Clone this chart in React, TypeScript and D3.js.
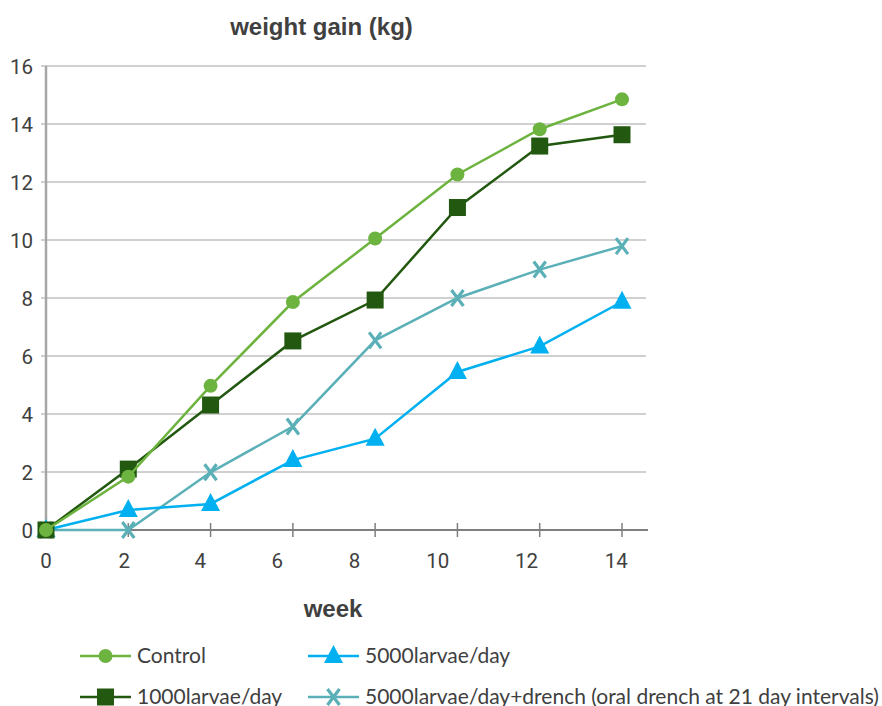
import React from "react";
import * as d3 from "d3";

const weeks = [0, 2, 4, 6, 8, 10, 12, 14];
const control = [0, 1.84, 4.97, 7.86, 10.05, 12.26, 13.82, 14.85];
const larvae1000 = [0, 2.1, 4.31, 6.52, 7.93, 11.12, 13.24, 13.63];
const larvae5000 = [0, 0.69, 0.9, 2.41, 3.15, 5.45, 6.33, 7.87];
const drench = [0, 0, 1.99, 3.57, 6.54, 8.0, 8.98, 9.79];
const yTicks = [0, 2, 4, 6, 8, 10, 12, 14, 16];
const xTickLabels = ["0", "2", "4", "6", "8", "10", "12", "14"];
const xLabelPos = [0, 1.9, 3.75, 5.62, 7.5, 9.52, 11.68, 13.86];

const seriesDefs = [
  { name: "Control", values: control, color: "#6db33f", marker: "circle" },
  { name: "1000larvae/day", values: larvae1000, color: "#22580f", marker: "square" },
  { name: "5000larvae/day", values: larvae5000, color: "#00b0f0", marker: "triangle" },
  { name: "5000larvae/day+drench (oral drench at 21 day intervals)", values: drench, color: "#5bb0b8", marker: "x" },
];

function Marker({ type, x, y, color }: { type: string; x: number; y: number; color: string }) {
  if (type === "circle") return <circle cx={x} cy={y} r={7} fill={color} />;
  if (type === "square") return <rect x={x - 8.5} y={y - 8.5} width={17} height={17} fill={color} />;
  if (type === "triangle")
    return <path d={`M${x},${y - 11}L${x + 9.5},${y + 7}L${x - 9.5},${y + 7}Z`} fill={color} />;
  return (
    <path
      d={`M${x - 6},${y - 8}L${x + 6},${y + 8}M${x + 6},${y - 8}L${x - 6},${y + 8}`}
      stroke={color}
      strokeWidth={3.2}
      fill="none"
    />
  );
}

export default function App() {
  const W = 882, H = 706;
  const x = d3.scaleLinear().domain([0, 14]).range([46, 622]);
  const y = d3.scaleLinear().domain([0, 16]).range([530, 66]);
  const line = d3
    .line<number>()
    .x((_, i) => x(weeks[i]))
    .y((d) => y(d));
  const tickFont = "Roboto, 'Liberation Sans', sans-serif";
  const titleFont = "'Liberation Sans', Arial, sans-serif";
  const legendFont = "Lato, 'Open Sans', sans-serif";
  const legendItems = [
    { s: seriesDefs[0], lx: 80, ly: 656 },
    { s: seriesDefs[2], lx: 308, ly: 656 },
    { s: seriesDefs[1], lx: 80, ly: 697 },
    { s: seriesDefs[3], lx: 308, ly: 697 },
  ];
  return (
    <svg width={W} height={H} style={{ position: "absolute", left: 0, top: 0, background: "#fff" }}>
      <rect width={W} height={H} fill="#fff" />
      <text x={321.5} y={35} textAnchor="middle" fontFamily={titleFont} fontWeight="bold" fontSize={24} fill="#404040">
        weight gain (kg)
      </text>
      {yTicks.map((t) => (
        <g key={t}>
          {t > 0 && <line x1={41} x2={646} y1={y(t)} y2={y(t)} stroke="#c0c0c0" strokeWidth={1.5} />}
          <text x={33} y={y(t) + 7.5} textAnchor="end" fontFamily={tickFont} fontSize={20.5} fill="#404040">
            {t}
          </text>
        </g>
      ))}
      <line x1={46} x2={46} y1={66} y2={530} stroke="#a6a6a6" strokeWidth={2.5} />
      <line x1={41} x2={648} y1={530} y2={530} stroke="#7f7f7f" strokeWidth={2} />
      {weeks.map((w) => (
        <line key={w} x1={x(w)} x2={x(w)} y1={523} y2={537} stroke="#7f7f7f" strokeWidth={1.5} />
      ))}
      {xTickLabels.map((l, i) => (
        <text key={l} x={x(xLabelPos[i])} y={568} textAnchor="middle" fontFamily={tickFont} fontSize={20.5} fill="#404040">
          {l}
        </text>
      ))}
      <text x={333} y={617} textAnchor="middle" fontFamily={titleFont} fontWeight="bold" fontSize={24} fill="#404040">
        week
      </text>
      {[seriesDefs[3], seriesDefs[2], seriesDefs[1], seriesDefs[0]].map((s) => (
        <g key={s.name}>
          <path d={line(s.values) || ""} fill="none" stroke={s.color} strokeWidth={2.5} />
          {s.values.map((v, i) => (
            <Marker key={i} type={s.marker} x={x(weeks[i])} y={y(v)} color={s.color} />
          ))}
        </g>
      ))}
      {legendItems.map(({ s, lx, ly }) => (
        <g key={s.name}>
          <line x1={lx} x2={lx + 51} y1={ly} y2={ly} stroke={s.color} strokeWidth={2.5} />
          <Marker type={s.marker} x={lx + 25.5} y={ly} color={s.color} />
          <text x={lx + 57} y={ly + 7} fontFamily={legendFont} fontSize={21} fill="#404040">
            {s.name}
          </text>
        </g>
      ))}
    </svg>
  );
}
